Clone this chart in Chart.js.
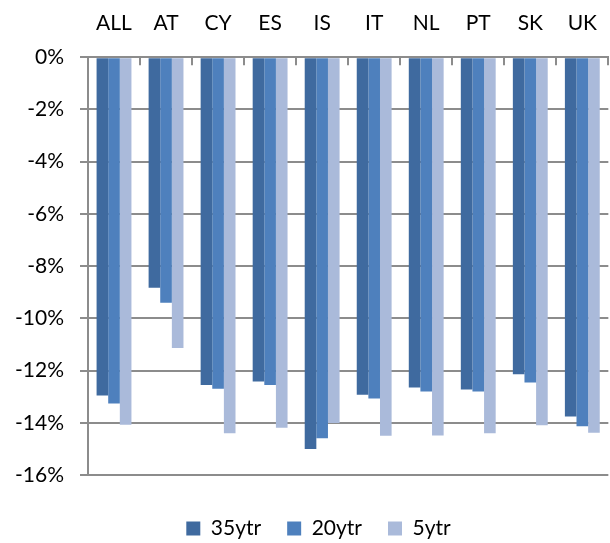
<!DOCTYPE html>
<html>
<head>
<meta charset="utf-8">
<script src="https://cdn.jsdelivr.net/npm/chart.js@4"></script>
<style>
html,body{margin:0;padding:0;background:#fff;}
#wrap{width:610px;height:543px;}
</style>
</head>
<body>
<div id="wrap"><canvas id="c" width="610" height="543"></canvas></div>
<script>
const categories = ["ALL","AT","CY","ES","IS","IT","NL","PT","SK","UK"];
const seriesNames = ["35ytr","20ytr","5ytr"];
const s35 = [-12.96,-8.83,-12.55,-12.42,-15.0,-12.93,-12.65,-12.73,-12.14,-13.76];
const s20 = [-13.26,-9.40,-12.70,-12.55,-14.59,-13.07,-12.80,-12.80,-12.46,-14.13];
const s5  = [-14.08,-11.14,-14.40,-14.19,-14.01,-14.50,-14.49,-14.40,-14.09,-14.38];
const yTicks = [0,-2,-4,-6,-8,-10,-12,-14,-16];
const colors = ["#3F6A9F","#4E80BD","#AABADA"];

const innerTicks = {
  id:'innerTicks',
  afterLayout(chart){
    if(chart.legend){ chart.legend.left += 14; chart.legend.right += 14; }
  },
  afterDatasetsDraw(chart){
    const ctx = chart.ctx, area = chart.chartArea;
    const n = categories.length;
    const w = (area.right-area.left)/n;
    ctx.save();
    ctx.strokeStyle = '#8c8c8c';
    ctx.lineWidth = 2;
    for(let i=1;i<=n;i++){
      const px = Math.round(area.left + i*w);
      ctx.beginPath();
      ctx.moveTo(px, area.top);
      ctx.lineTo(px, area.top+8);
      ctx.stroke();
    }
    ctx.restore();
  }
};

const font = {family:'Lato', size:21};
new Chart(document.getElementById('c'), {
  type:'bar',
  data:{
    labels:categories,
    datasets:[
      {label:seriesNames[0], data:s35, backgroundColor:colors[0]},
      {label:seriesNames[1], data:s20, backgroundColor:colors[1]},
      {label:seriesNames[2], data:s5,  backgroundColor:colors[2]}
    ]
  },
  options:{
    responsive:false,
    animation:false,
    layout:{padding:{left:-1,right:0,top:-2,bottom:-6}},
    datasets:{bar:{categoryPercentage:0.67, barPercentage:1.0, borderWidth:0}},
    plugins:{
      legend:{
        position:'bottom',
        title:{display:true, text:' ', padding:2.5, font:{size:10}},
        labels:{font:font, color:'#000', boxWidth:14, boxHeight:14, padding:26}
      },
      tooltip:{enabled:false}
    },
    scales:{
      x:{
        position:'top',
        grid:{display:false},
        border:{display:true, color:'#8c8c8c', width:2},
        ticks:{font:font, color:'#000', padding:13}
      },
      y:{
        min:-16, max:0,
        afterBuildTicks(axis){ axis.ticks = yTicks.map(v=>({value:v})); },
        grid:{color:'#8c8c8c', lineWidth:2, tickLength:8},
        border:{display:true, color:'#8c8c8c', width:2},
        ticks:{font:font, color:'#000', padding:16, callback:(v)=>v+'%'}
      }
    }
  },
  plugins:[innerTicks]
});
</script>
</body>
</html>
